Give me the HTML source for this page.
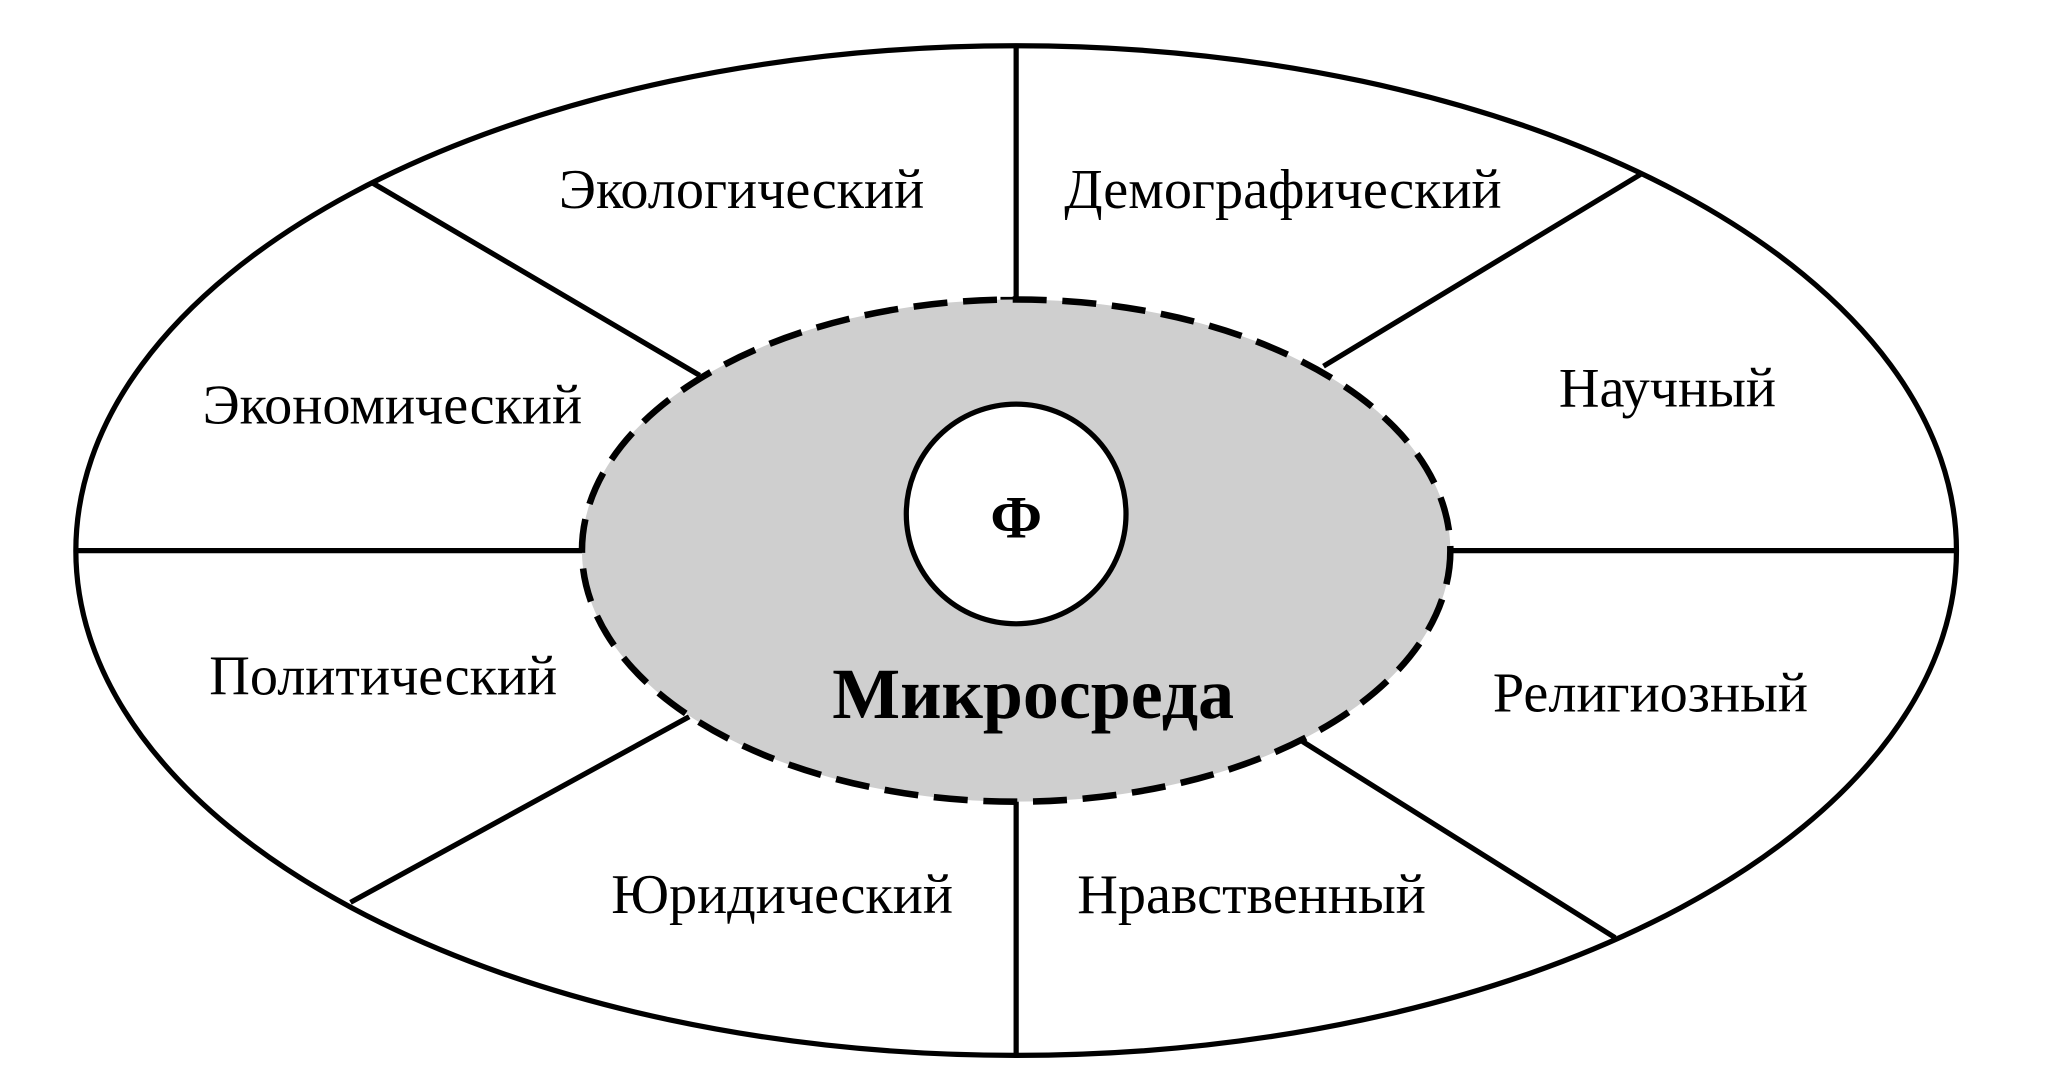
<!DOCTYPE html>
<html><head><meta charset="utf-8"><style>
html,body{margin:0;padding:0;background:#fff;}
svg{display:block;}
text{font-family:"Liberation Serif",serif;fill:#000;}
</style></head><body>
<svg width="2048" height="1092" viewBox="0 0 1566 835" preserveAspectRatio="none" xmlns="http://www.w3.org/2000/svg">
<rect width="1570" height="840" fill="#fff"/>
<ellipse cx="777" cy="421" rx="719" ry="386" fill="#fff" stroke="#000" stroke-width="4"/>
<g stroke="#000" stroke-width="4">
<line x1="777" y1="35" x2="777" y2="229"/>
<line x1="765" y1="229" x2="789" y2="229"/>
<line x1="777" y1="613" x2="777" y2="807"/>
<line x1="58" y1="421" x2="445" y2="421"/>
<line x1="1110" y1="421" x2="1496" y2="421"/>
<line x1="285" y1="140" x2="535" y2="287"/>
<line x1="1255" y1="133" x2="1012" y2="280"/>
<line x1="268" y1="690" x2="527" y2="548"/>
<line x1="1235" y1="717" x2="996" y2="567"/>
</g>
<ellipse cx="777" cy="421" rx="332" ry="192" fill="#cfcfcf" stroke="#000" stroke-width="5" stroke-dasharray="26,12"/>
<circle cx="777" cy="393" r="84" fill="#fff" stroke="#000" stroke-width="4"/>
<g font-size="43" text-anchor="middle">
<text x="567" y="159">Экологический</text>
<text x="981" y="159">Демографический</text>
<text x="300" y="324">Экономический</text>
<text x="1275" y="311">Научный</text>
<text x="293" y="531">Политический</text>
<text x="1262" y="544">Религиозный</text>
<text x="598" y="698">Юридический</text>
<text x="957" y="698">Нравственный</text>
</g>
<text x="777" y="411" font-size="46" font-weight="bold" text-anchor="middle">Ф</text>
<text x="790" y="549" font-size="55" font-weight="bold" text-anchor="middle">Микросреда</text>
</svg>
</body></html>
